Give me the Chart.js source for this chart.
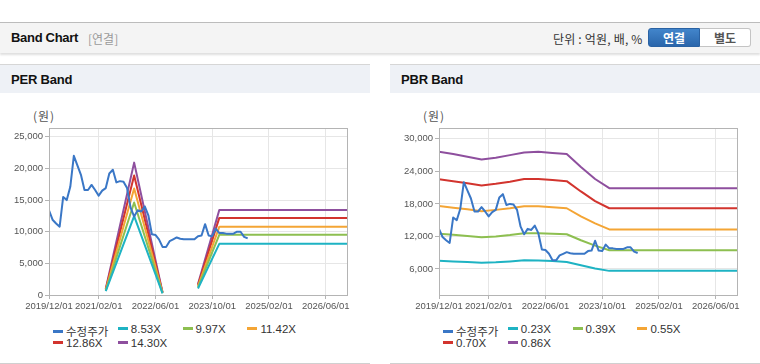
<!DOCTYPE html>
<html>
<head>
<meta charset="utf-8">
<script src="https://cdn.jsdelivr.net/npm/chart.js@4.4.0/dist/chart.umd.min.js"></script>
<style>
  body { margin: 0; width: 760px; height: 364px; background: #fff; position: relative; overflow: hidden;
    font-family: "Liberation Sans", "Noto Sans CJK KR", sans-serif; color: #333; }
  .topbar { position: absolute; left: 0; top: 22px; width: 760px; height: 30px; background: #f4f4f4;
    border-top: 1px solid #bcbcbc; box-shadow: 0 2px 2px rgba(0, 0, 0, 0.13); }
  .topbar .title { position: absolute; left: 11px; top: 7px; font: bold 13px "Liberation Sans", sans-serif; color: #111; letter-spacing: -0.3px; }
  .topbar .sub { position: absolute; left: 88px; top: 7px; font-size: 12px; color: #9a9a9a; font-family: "Noto Sans CJK KR", sans-serif; }
  .topbar .unit { position: absolute; left: 553px; top: 7px; font-size: 12px; color: #333; font-family: "Noto Sans CJK KR", sans-serif; letter-spacing: 0.2px; }
  .btn { position: absolute; top: 5px; height: 19px; line-height: 18px; text-align: center; font: bold 12px "Noto Sans CJK KR", sans-serif; box-sizing: border-box; }
  .btn.on { left: 648px; width: 52px; background: linear-gradient(#4285cb, #2a66ab); color: #fff; border: 1px solid #2a62a3; border-radius: 3px 0 0 3px; }
  .btn.off { left: 700px; width: 51px; background: #fff; color: #555; border: 1px solid #c4c4c4; border-left: none; border-radius: 0 3px 3px 0; }
  .panel { position: absolute; top: 64px; width: 370px; height: 298px; border-top: 1px solid #d6d6d6; border-bottom: 1px solid #d0d0d0; }
  .panel .head { position: absolute; left: 0; top: 0; width: 370px; height: 28px; background: #eef1f6; }
  .panel .head span { position: absolute; left: 11px; top: 7px; font: bold 13px "Liberation Sans", sans-serif; color: #111; letter-spacing: -0.2px; }
  .panel .won { position: absolute; left: 33px; top: 42px; font-size: 12px; color: #555; font-family: "Noto Sans CJK KR", sans-serif; letter-spacing: 1px; }
  .panel canvas { position: absolute; left: 0; top: 35px; }
  .legend-item { position: absolute; font-size: 11.5px; color: #333; white-space: nowrap; font-family: "Liberation Sans", "Noto Sans CJK KR", sans-serif; }
  .legend-item i { display: inline-block; width: 10px; height: 3px; margin-right: 3px; vertical-align: middle; position: relative; top: -1px; }
</style>
</head>
<body>
<div class="topbar">
  <span class="title">Band Chart</span>
  <span class="sub">[연결]</span>
  <span class="unit">단위 : 억원, 배, %</span>
  <span class="btn on">연결</span>
  <span class="btn off">별도</span>
</div>
<div class="panel" id="perPanel" style="left:0">
  <div class="head"><span>PER Band</span></div>
  <div class="won">(원)</div>
  <canvas id="perChart" width="370" height="215"></canvas>
</div>
<div class="panel" id="pbrPanel" style="left:390px">
  <div class="head"><span>PBR Band</span></div>
  <div class="won">(원)</div>
  <canvas id="pbrChart" width="370" height="215"></canvas>
</div>
<script>
//  x axis runs in months counted from 2019/12
const xStart = `2019/12`
const xEnd = `2026/12`
const xTickLabels = [`2019/12/01`, `2021/02/01`, `2022/06/01`, `2023/10/01`, `2025/02/01`, `2026/06/01`]

//  adjusted price, one value per month from 2019/12
const priceLabel = `수정주가`
const priceValues = [
	13400, 11900, 11300, 10800, 15500, 15000, 17100, 22000, 20500, 19000,
	16600, 16600, 17400, 16600, 15700, 16500, 16900, 19200, 19800, 17800,
	18000, 17900, 16900, 13800, 12400, 13400, 13200, 14000, 12600, 9600,
	9500, 8800, 7600, 7600, 8500, 8800, 9100, 8900, 8800, 8800,
	8800, 8800, 9300, 9400, 11200, 9400, 9300, 10500, 9800, 9800,
	9700, 9700, 9700, 10000, 10000, 9200, 8950
]

//  PER bands (null = gap)
const perBandDates = [`2021/04`, `2021/12`, `2022/08`, `2023/01`, `2023/06`, `2023/12`, `2026/12`]
const perBandLabels = [`8.53X`, `9.97X`, `11.42X`, `12.86X`, `14.30X`]
const per853 = [600, 12460, 260, null, 1030, 8090, 8090]
const per997 = [700, 14620, 300, null, 1210, 9510, 9510]
const per1142 = [800, 16830, 340, null, 1380, 10770, 10770]
const per1286 = [900, 18880, 390, null, 1560, 12190, 12190]
const per1430 = [1000, 20930, 430, null, 1730, 13450, 13450]

//  PBR bands
const pbrBandDates = [`2019/12`, `2020/04`, `2020/08`, `2020/12`, `2021/04`, `2021/08`, `2021/12`, `2022/04`, `2022/08`, `2022/12`, `2023/04`, `2023/08`, `2023/12`, `2026/12`]
const pbrBandLabels = [`0.23X`, `0.39X`, `0.55X`, `0.70X`, `0.86X`]
const pbr023 = [7540, 7400, 7300, 7170, 7250, 7400, 7600, 7550, 7450, 7300, 6700, 6100, 5650, 5650]
const pbr039 = [12520, 12300, 12100, 11850, 12000, 12250, 12600, 12600, 12500, 12400, 11300, 10300, 9450, 9450]
const pbr055 = [17630, 17300, 17000, 16650, 16900, 17200, 17570, 17550, 17400, 17200, 15700, 14400, 13300, 13300]
const pbr070 = [22550, 22200, 21800, 21400, 21700, 22100, 22600, 22600, 22400, 22200, 20300, 18500, 17200, 17200]
const pbr086 = [27600, 27200, 26700, 26200, 26500, 27000, 27500, 27600, 27400, 27200, 24800, 22600, 20900, 20900]

//  y tick labels of each chart
const perTicks = [0, 5000, 10000, 15000, 20000, 25000]
const pbrTicks = [6000, 12000, 18000, 24000, 30000]

const priceColor = `#3a77c6`
const bandColors = [`#1eb3c3`, `#8dbf50`, `#f4a535`, `#d2342e`, `#8e4f9e`]

//  `YYYY/MM` -> months since xStart
const toMonth = date => {
	const [y, m] = date.split(`/`).map(Number)
	const [y0, m0] = xStart.split(`/`).map(Number)
	return (y - y0) * 12 + (m - m0)
}
const xTickMonths = xTickLabels.map(label => toMonth(label.slice(0, 7)))

const lineSet = (label, color, points) => ({
	label,
	data: points,
	borderColor: color,
	backgroundColor: color,
	borderWidth: 2,
	pointRadius: 0,
	tension: 0,
	spanGaps: false,
	borderJoinStyle: `round`
})

const priceSet = () => lineSet(priceLabel, priceColor, priceValues.map((v, i) => ({ x: i, y: v })))
const bandSets = (dates, labels, series) => series.map((values, k) =>
	lineSet(labels[k], bandColors[k], values.map((v, i) => ({ x: toMonth(dates[i]), y: v }))))

//  gray frame around the plot area
const framePlugin = {
	id: `frame`,
	afterDraw(chart) {
		const { ctx, chartArea: a } = chart
		ctx.save()
		ctx.strokeStyle = `#b4b4b4`
		ctx.lineWidth = 1
		ctx.strokeRect(Math.round(a.left) + 0.5, Math.round(a.top) + 0.5, Math.round(a.right - a.left), Math.round(a.bottom - a.top))
		ctx.restore()
	}
}

const tickFont = { family: `"Liberation Sans", sans-serif`, size: 9.5 }

const makeChart = (canvasId, datasets, yMin, yMax, yTicks) => new Chart(document.getElementById(canvasId), {
	type: `line`,
	data: { datasets },
	plugins: [framePlugin],
	options: {
		responsive: false,
		animation: false,
		devicePixelRatio: 1,
		layout: { padding: { top: 28, right: 23, left: 0, bottom: 0 } },
		plugins: { legend: { display: false }, tooltip: { enabled: false } },
		scales: {
			x: {
				type: `linear`,
				min: 0,
				max: toMonth(xEnd),
				afterBuildTicks: scale => { scale.ticks = xTickMonths.map(value => ({ value })) },
				afterFit: scale => { scale.height = 20 },
				ticks: {
					autoSkip: false,
					maxRotation: 0,
					padding: 2,
					color: `#555`,
					font: tickFont,
					callback: value => xTickLabels[xTickMonths.indexOf(value)]
				},
				grid: { color: `#e6e6e6`, tickColor: `#b4b4b4`, tickLength: 4 },
				border: { color: `#b4b4b4` }
			},
			y: {
				min: yMin,
				max: yMax,
				afterBuildTicks: scale => { scale.ticks = yTicks.map(value => ({ value })) },
				afterFit: scale => { scale.width = 49 },
				ticks: {
					autoSkip: false,
					padding: 2,
					color: `#555`,
					font: tickFont,
					callback: value => value.toLocaleString(`en-US`)
				},
				grid: { color: `#e6e6e6`, tickColor: `#b4b4b4`, tickLength: 4 },
				border: { color: `#b4b4b4` }
			}
		}
	}
})

//  plain html legend, 4 columns
const drawLegend = (panelId, chart) => {
	const panel = document.getElementById(panelId)
	chart.data.datasets.forEach((ds, i) => {
		const item = document.createElement(`div`)
		item.className = `legend-item`
		item.style.left = `${53 + (i % 4) * 64.8}px`
		item.style.top = `${258 + Math.floor(i / 4) * 13.5}px`
		item.innerHTML = `<i style="background:${ds.borderColor}"></i>${ds.label}`
		panel.appendChild(item)
	})
}

const perChart = makeChart(`perChart`, [priceSet(), ...bandSets(perBandDates, perBandLabels, [per853, per997, per1142, per1286, per1430])], 0, 26400, perTicks)
const pbrChart = makeChart(`pbrChart`, [priceSet(), ...bandSets(pbrBandDates, pbrBandLabels, [pbr023, pbr039, pbr055, pbr070, pbr086])], 1200, 32000, pbrTicks)
drawLegend(`perPanel`, perChart)
drawLegend(`pbrPanel`, pbrChart)
</script>
</body>
</html>
